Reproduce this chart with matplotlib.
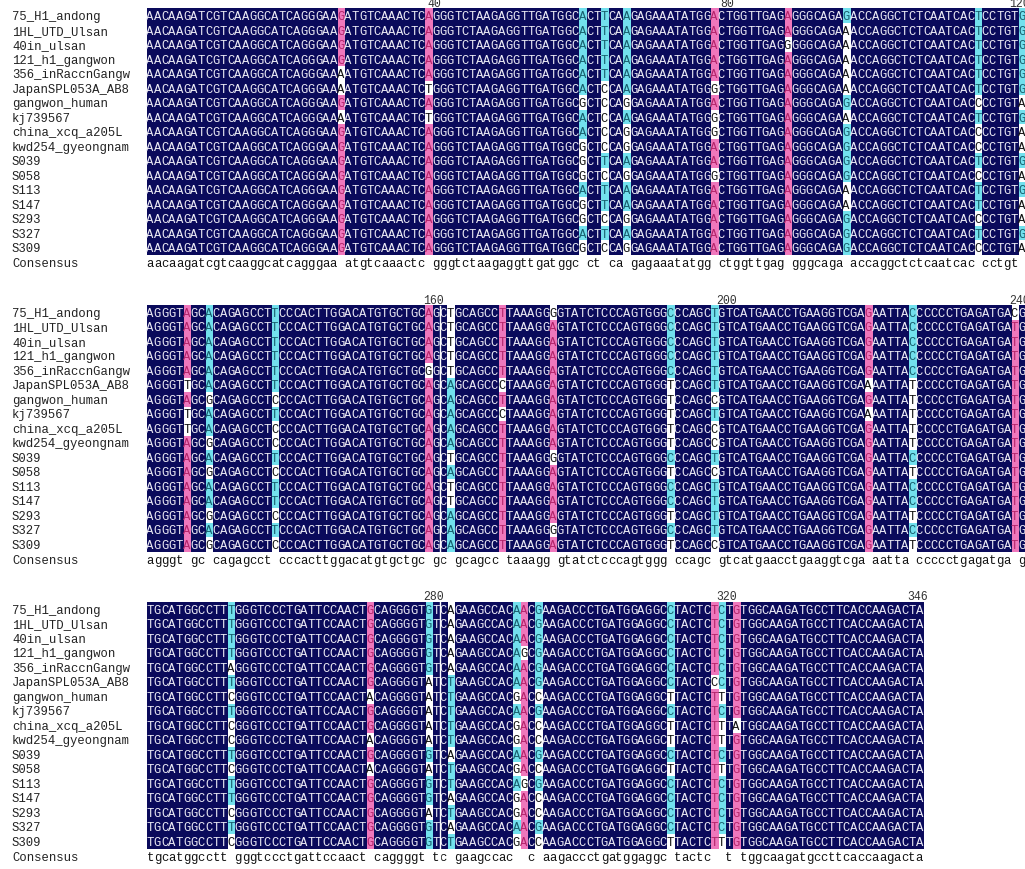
import numpy as np
import matplotlib
matplotlib.use("Agg")
import matplotlib.pyplot as plt

names = ["75_H1_andong", "1HL_UTD_Ulsan", "40in_ulsan", "121_h1_gangwon",
         "356_inRaccnGangw", "JapanSPL053A_AB8", "gangwon_human", "kj739567",
         "china_xcq_a205L", "kwd254_gyeongnam", "S039", "S058", "S113", "S147",
         "S293", "S327", "S309"]

# majority base at every position (1..346)
backbone = (
    "AACAAGATCGTCAAGGCATCAGGGAA" "G" "ATGTCAAACTC" "A" "GGGTCTAAGAGGTTGATGGC" "A"
    "CT" "T" "CA" "A" "GAGAAATATGG" "A" "CT" "GGTTGAG" "A" "GGGCAGA" "G"
    "ACCAGGCTCTCAATCAC" "T" "CCTGT" "G"
    "AGGGT" "A" "GC" "A" "CAGAGCCT" "T" "CCCACTTGGACATGTGCTGC" "A" "GC" "A"
    "GCAGCC" "T" "TAAAGG" "A" "GTATCTCCCAGTGGG" "C" "CCAGC" "T"
    "GTCATGAACCTGAAGGTCGA" "G" "AATTA" "C" "CCCCCTGAGATGA" "T" "G"
    "TGCATGGCCTT" "T" "GGGTCCCTGATTCCAACT" "G" "CAGGGGT" "G" "TC" "T" "GAAGCCAC"
    "A" "A" "C" "G" "AAGACCCTGATGGAGGC" "C" "TACTC" "T" "C" "T" "G"
    "TGGCAAGATGCCTTCACCAAGACTA"
)

# variable columns: position -> bases for the 17 sequences (top to bottom)
variants = {
    27: "GGGGAAGAGGGGGGGGG",
    39: "AAAAATATAAAAAAAAA",
    60: "AAAAAAGAAGGGAGGAG",
    63: "TTTTTCCCCCTCTTCTC",
    66: "AAAAAAGAGGAGAAGAG",
    78: "AAAAAGAGGAAGAAAAA",
    88: "AAGAAAAAAAAAAAAAA",
    96: "GAAAAAGAGGGGAAGGG",
    114: "TTTTTTCTCCTCTTCTC",
    120: "GGGGGGAGAAGAGAAGA",
    126: "AAAAATATTAAAAAAAA",
    129: "AAAAAAGAAGAGAAGAG",
    138: "TTTTTTCTCCTCTTCTC",
    159: "AAAAGAAAAAAAAAAAA",
    162: "TTTTTAAAAATATTAAA",
    169: "TTTTTCTCTTTTTTTTT",
    176: "GAAAAAAAAAGAAAAGA",
    192: "CCCCCTTTTTCTCCTCT",
    198: "TTTTTTCTCCTCTTTTC",
    219: "GGGGGAGAGGGGGGGGG",
    225: "CCCCCTTTTTCTCCTCT",
    239: "CTTTTTTTTTTTTTTTT",
    252: "TTTTATCTCCTCTTCTC",
    271: "GGGGGGAGGAGAGGGGG",
    279: "GGGGGAAAAAGAGGAGG",
    282: "AAAAATTTTTATTATAT",
    291: "AAAAAAGAGGAGAGGAG",
    292: "AAAGAAAAAAAAGAAAA",
    294: "GGGGGGCGCCGCGCCGC",
    312: "CCCCCCTCTTCTCCCCT",
    318: "TTTTTCTTTTTTTTTTT",
    319: "CCCCCCTCTTCTCCCCT",
    321: "GGGGGGGGAGGGGGGGG",
}

block_ranges = [(1, 120), (121, 240), (241, 346)]
tick_marks = [[40, 80, 120], [160, 200, 240], [280, 320, 346]]

seqs = [list(backbone) for _ in names]
for pos, col in variants.items():
    for i, b in enumerate(col):
        seqs[i][pos - 1] = b
seqs = np.array(seqs)
nrow, ncol = seqs.shape

# homology level of every cell: 3 = 100%, 2 = >=75%, 1 = >=50%, 0 = lower
level = np.zeros((nrow, ncol), dtype=int)
consensus = []
for j in range(ncol):
    col = seqs[:, j]
    vals, counts = np.unique(col, return_counts=True)
    frac = dict(zip(vals, counts / nrow))
    for i in range(nrow):
        f = frac[col[i]]
        level[i, j] = 3 if f == 1 else (2 if f >= 0.75 else (1 if f >= 0.5 else 0))
    consensus.append(col[0].lower() if len(vals) == 1 else " ")

bg = {3: (0.04, 0.04, 0.36), 2: (0.94, 0.47, 0.74), 1: (0.45, 0.88, 0.93), 0: (1, 1, 1)}
fg = {3: "#ecebf5", 2: "#b3246a", 1: "#17606e", 0: "#111111"}

fig = plt.figure(figsize=(10.25, 8.7), dpi=100)
ax = fig.add_axes([0, 0, 1, 1])
ax.set_xlim(0, 1025)
ax.set_ylim(870, 0)
ax.axis("off")

x0, cw, rh = 146.5, 7.325, 14.5
block_top = [10, 306.7, 603.3]
mono = "Liberation Mono"

for b, (start, end) in enumerate(block_ranges):
    top = block_top[b]
    cols = np.arange(start - 1, end)
    n = len(cols)
    img = np.array([[bg[level[i, j]] for j in cols] for i in range(nrow)])
    ax.imshow(img, extent=(x0, x0 + n * cw, top + nrow * rh, top),
              interpolation="nearest", aspect="auto", zorder=1)
    for i in range(nrow):
        y = top + (i + 0.5) * rh
        ax.text(12, y, names[i], ha="left", va="center", fontsize=8.8,
                family=mono, color="#222222")
        for k, j in enumerate(cols):
            ax.text(x0 + (k + 0.5) * cw, y, seqs[i, j], ha="center", va="center",
                    fontsize=8.8, family=mono, color=fg[level[i, j]], zorder=2)
    yc = top + (nrow + 0.55) * rh
    ax.text(12, yc, "Consensus", ha="left", va="center", fontsize=8.8,
            family=mono, color="#222222")
    for k, j in enumerate(cols):
        ax.text(x0 + (k + 0.5) * cw, yc, consensus[j], ha="center", va="center",
                fontsize=8.8, family=mono, color="#111111")
    for t in tick_marks[b]:
        ax.text(x0 + (t - start + 0.5) * cw - 2, top - 6, str(t), ha="center",
                va="center", fontsize=8.3, family=mono, color="#333333")
    if b > 0:
        xl = x0 + 40 * cw
        ax.plot([xl, xl], [top, top + (nrow + 1) * rh], color="white", lw=1, zorder=3)

fig.savefig("out.png", dpi=100)
